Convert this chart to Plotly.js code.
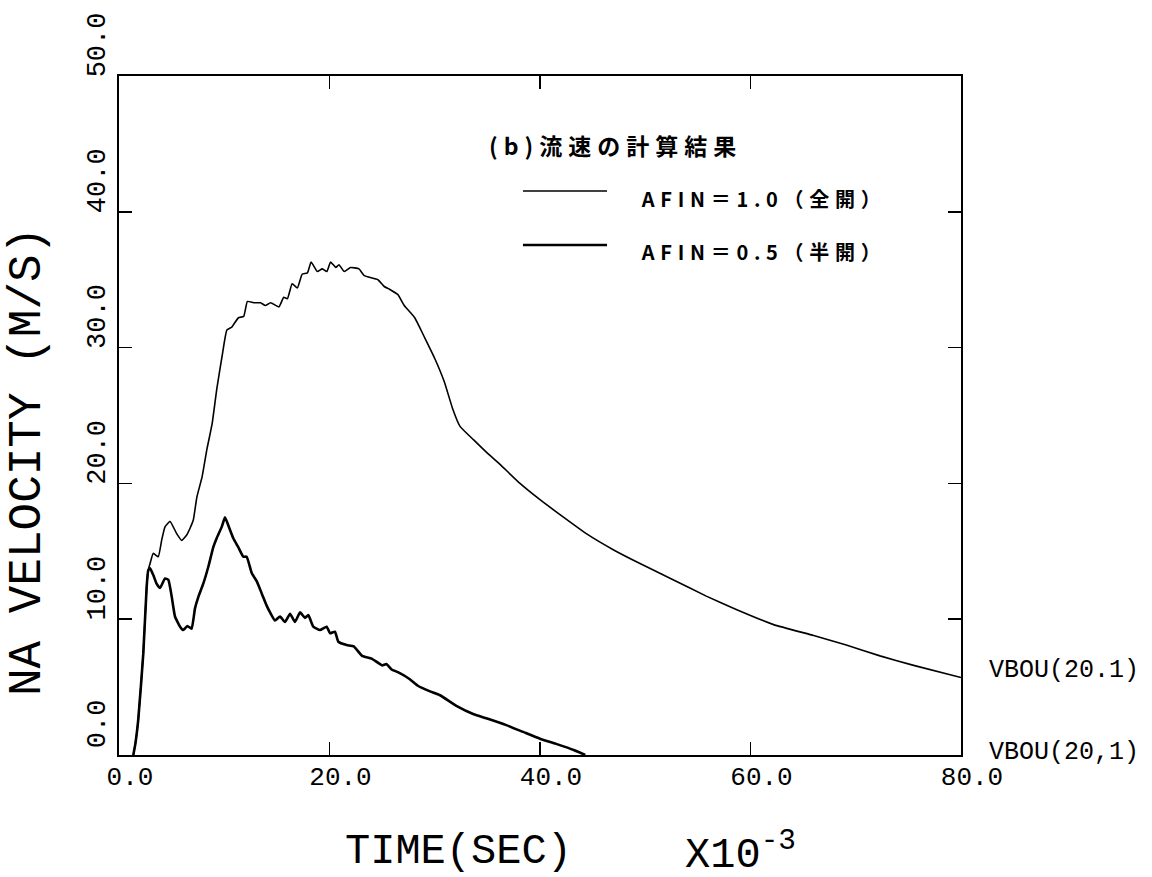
<!DOCTYPE html>
<html>
<head>
<meta charset="utf-8">
<script src="https://cdn.plot.ly/plotly-3.0.1.min.js"></script>
<style>
  html, body { margin: 0; padding: 0; background: #fff; }
  #chart { width: 1152px; height: 877px; }
  g.annotation[data-index="0"] text { letter-spacing: 6px; }
  g.annotation[data-index="1"] text, g.annotation[data-index="2"] text { letter-spacing: 5.7px; }
</style>
</head>
<body>
<div id="chart"></div>
<script>
// AFIN = 1.0 (full open) — thin line
const timeFull = [1.36, 1.55, 1.83, 2.31, 2.63, 2.78, 2.95, 3.26, 3.73, 4.05, 4.37, 4.85, 5.48, 5.96, 6.43, 6.75, 7.06,
  7.4, 7.9, 8.35, 8.85, 9.3, 9.8, 10.25, 10.7, 11.35, 11.85, 12.2, 12.8, 13.45, 13.9, 14.4, 15.2, 15.65, 16.0, 16.45,
  16.95, 17.4, 17.9, 18.25, 18.85, 19.3, 19.75, 20.1, 20.6, 20.9, 21.4, 22.0, 22.8, 23.3, 24.6, 25.2, 25.7, 26.5,
  27.1, 28.1, 29.0, 30.0, 30.9, 31.7, 32.4, 33.7, 34.9, 36.2, 38.1, 40.0, 41.9, 44.4, 47.0, 49.5, 52.4, 55.8, 58.7,
  62.2, 66.0, 69.1, 72.3, 75.5, 80.0];
const velFull = [0, 0.8, 2.6, 7.5, 12.4, 13.6, 14.1, 14.85, 14.6, 15.8, 16.8, 17.2, 16.3, 15.8, 16.2, 16.7, 17.3,
  19.0, 20.5, 22.5, 24.4, 27.0, 29.4, 31.3, 31.5, 32.2, 32.3, 33.4, 33.3, 33.3, 33.1, 33.3, 33.0, 33.7, 33.6, 34.7,
  34.4, 35.4, 35.5, 36.3, 35.6, 35.8, 35.6, 36.3, 35.9, 36.1, 35.6, 35.9, 35.8, 35.3, 35.0, 34.5, 34.3, 33.9,
  33.1, 32.2, 30.8, 29.2, 27.5, 25.5, 24.2, 23.2, 22.3, 21.4, 20.0, 18.8, 17.7, 16.3, 15.1, 14.1, 13.0, 11.7, 10.7,
  9.6, 8.8, 8.1, 7.3, 6.6, 5.7];

// AFIN = 0.5 (half open) — thick line
const timeHalf = [1.36, 1.55, 1.83, 2.31, 2.63, 2.78, 2.95, 3.26, 3.58, 3.9, 4.37, 4.69, 5.0, 5.32, 5.8, 6.11, 6.49,
  6.9, 7.22, 7.54, 8.0, 8.5, 8.96, 9.28, 9.76, 10.07, 10.39, 10.86, 11.33, 11.81, 12.13, 12.61, 13.08, 13.56, 14.03,
  14.35, 14.82, 15.3, 15.77, 16.25, 16.72, 17.2, 17.67, 17.99, 18.46, 19.1, 19.73, 20.05, 20.52, 20.84, 21.63, 22.3,
  23.1, 24.0, 25.0, 25.4, 25.9, 26.5, 27.6, 28.4, 29.5, 30.5, 32.1, 33.7, 34.9, 36.8, 38.4, 40.0, 41.6, 43.2, 44.3];
const velHalf = [0, 0.8, 2.6, 7.5, 12.4, 13.6, 13.75, 13.25, 12.6, 12.3, 13.0, 12.9, 11.7, 10.2, 9.45, 9.2, 9.5,
  9.3, 10.8, 11.65, 12.6, 13.9, 15.3, 15.96, 16.8, 17.5, 16.9, 15.96, 15.3, 14.6, 14.6, 13.4, 12.8, 11.9, 11.0,
  10.5, 9.9, 10.2, 9.8, 10.4, 9.8, 10.5, 10.1, 10.3, 9.45, 9.2, 9.45, 8.96, 9.08, 8.34, 8.1, 8.0,
  7.3, 7.1, 6.6, 6.7, 6.3, 6.1, 5.6, 5.1, 4.7, 4.4, 3.6, 3.0, 2.7, 2.2, 1.7, 1.2, 0.8, 0.37, 0];

const xTickVals = [0, 20, 40, 60, 80];
const xTickText = ["0.0", "20.0", "40.0", "60.0", "80.0"];
const yTickVals = [0, 10, 20, 30, 40, 50];
const yTickText = ["0.0", "10.0", "20.0", "30.0", "40.0", "50.0"];

const legendTitle = "(b)流速の計算結果";
const seriesNames = ["AFIN＝1.0（全開）", "AFIN＝0.5（半開）"];
const rightLabels = ["VBOU(20.1)", "VBOU(20,1)"];
const xTitle = "TIME(SEC)";
const xScale = "X10<sup>-3</sup>";
const yTitle = "NA VELOCITY (M/S)";

const mono = "Liberation Mono, DejaVu Sans Mono, monospace";
const cjk = "Noto Sans CJK JP, sans-serif";

const traces = [
  { x: timeFull, y: velFull, mode: "lines", name: seriesNames[0], line: { color: "#000", width: 1.6, shape: "spline", smoothing: 0.4 }, showlegend: false },
  { x: timeHalf, y: velHalf, mode: "lines", name: seriesNames[1], line: { color: "#000", width: 2.6, shape: "spline", smoothing: 0.4 }, showlegend: false }
];

const axisCommon = {
  showgrid: false, zeroline: false, showline: true, linecolor: "#000", linewidth: 2,
  ticks: "inside", ticklen: 13, tickwidth: 1.5, tickcolor: "#000", mirror: "ticks",
  tickfont: { family: mono, size: 25, color: "#000" }
};

const layout = {
  width: 1152, height: 877,
  margin: { l: 119, r: 191, t: 76, b: 122 },
  paper_bgcolor: "#fff", plot_bgcolor: "#fff",
  xaxis: Object.assign({}, axisCommon, {
    range: [0, 80], tickvals: xTickVals, ticktext: xTickText, ticklabelshift: 11, ticklabelstandoff: -3,
    tickfont: { family: mono, size: 26, color: "#000" }
  }),
  yaxis: Object.assign({}, axisCommon, {
    range: [0, 50], tickvals: yTickVals, ticktext: yTickText, tickangle: -90, ticklabelshift: -27, ticklabelstandoff: 1,
    tickfont: { family: mono, size: 27, color: "#000" }
  }),
  shapes: [
    { type: "line", xref: "paper", yref: "paper", x0: 0.4798, x1: 0.5796, y0: 0.8306, y1: 0.8306, line: { color: "#000", width: 1.6 } },
    { type: "line", xref: "paper", yref: "paper", x0: 0.4798, x1: 0.5796, y0: 0.7511, y1: 0.7511, line: { color: "#000", width: 2.6 } }
  ],
  annotations: [
    { text: legendTitle, xref: "paper", yref: "paper", x: 0.4406, y: 0.898, xanchor: "left", yanchor: "middle", xshift: 27, showarrow: false,
      font: { family: cjk, size: 23, color: "#000", weight: 700 } },
    { text: seriesNames[0], xref: "paper", yref: "paper", x: 0.6211, y: 0.8189, xanchor: "left", yanchor: "middle", xshift: 31, showarrow: false,
      font: { family: cjk, size: 20, color: "#000", weight: 700 } },
    { text: seriesNames[1], xref: "paper", yref: "paper", x: 0.6211, y: 0.7408, xanchor: "left", yanchor: "middle", xshift: 31, showarrow: false,
      font: { family: cjk, size: 20, color: "#000", weight: 700 } },
    { text: rightLabels[0], xref: "paper", yref: "paper", x: 1.031, y: 0.125, xanchor: "left", yanchor: "middle", showarrow: false,
      font: { family: mono, size: 25, color: "#000" } },
    { text: rightLabels[1], xref: "paper", yref: "paper", x: 1.031, y: 0.003, xanchor: "left", yanchor: "middle", showarrow: false,
      font: { family: mono, size: 25, color: "#000" } },
    { text: xTitle, xref: "paper", yref: "paper", x: 0.4038, y: -0.1429, xanchor: "center", yanchor: "middle", showarrow: false,
      font: { family: mono, size: 42, color: "#000" } },
    { text: xScale, xref: "paper", yref: "paper", x: 0.6698, y: -0.1429, xanchor: "left", yanchor: "middle", showarrow: false,
      font: { family: mono, size: 42, color: "#000" } },
    { text: yTitle, xref: "paper", yref: "paper", x: -0.108, y: 0.4315, xanchor: "center", yanchor: "middle", textangle: -90, showarrow: false,
      font: { family: mono, size: 46, color: "#000" } }
  ]
};

Plotly.newPlot("chart", traces, layout, { displayModeBar: false, staticPlot: true });
</script>
</body>
</html>
